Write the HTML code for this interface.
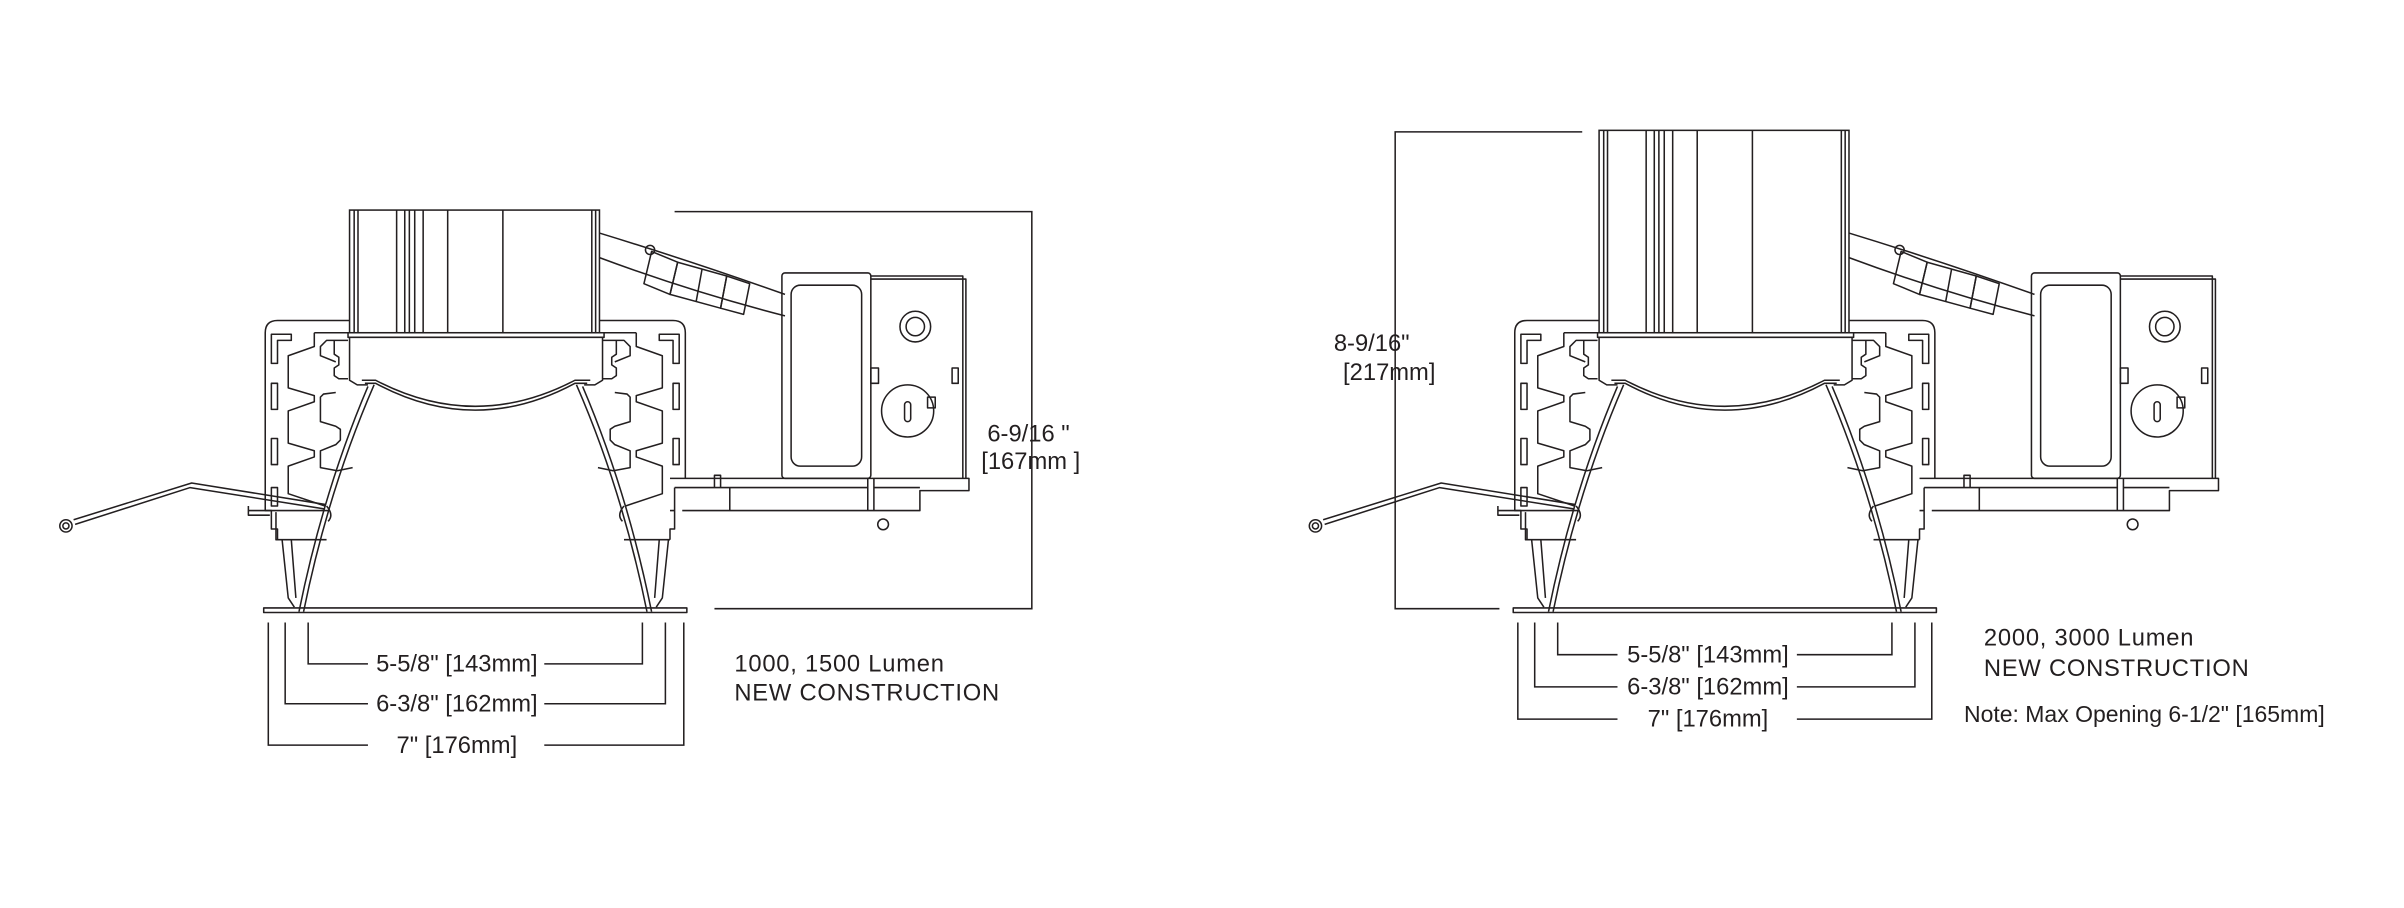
<!DOCTYPE html>
<html><head><meta charset="utf-8"><style>
html,body{margin:0;padding:0;background:#fff;}
svg{display:block;}
text{font-family:"Liberation Sans Narrow","Liberation Sans",sans-serif;fill:#231f20;}
</style></head><body>
<svg width="2404" height="908" viewBox="0 0 1568 592.2" xmlns="http://www.w3.org/2000/svg">
<defs>
<g id="fx" fill="none" stroke="#231f20" stroke-width="1" stroke-linejoin="round">
  <path d="M228,209 L181,209 Q173,209 173,217 L173,333 L177,333 L177,345 L181,345 L181,352"/>
  <path d="M391,209 L439,209 Q447,209 447,217 L447,312"/>
  <path d="M440,318 L440,345 L437,345 L437,352"/>
  <path d="M177,218 L190,218 L190,222 L181,222 L181,237 L177,237 Z"/>
  <rect x="177" y="250" width="4" height="17"/>
  <rect x="177" y="286" width="4" height="17"/>
  <rect x="177" y="318" width="4" height="12"/>
  <path d="M443,218 L430,218 L430,222 L439,222 L439,237 L443,237 Z"/>
  <rect x="439" y="250" width="4" height="17"/>
  <rect x="439" y="286" width="4" height="17"/>
  <path d="M205,217 L227,217 M205,217 L205,226 L188,232 L188,253 L205,258 L205,262 L188,268 L188,289 L205,294 L205,298 L188,304 L188,322 L212,330"/>
  <path d="M227,222 L213,222 L209,226 L209,232 L219,236 M219,256 L211,257 L209,259 L209,275 L219,278 L222,280 L222,287 L219,290 L209,294 L209,305 L220,307 L230,305"/>
  <path d="M218,222 L218,231 L221,233 L221,238 L218,240 L218,245 L221,247 L227,247"/>
  <path d="M415,217 L393,217 M415,217 L415,226 L432,232 L432,253 L415,258 L415,262 L432,268 L432,289 L415,294 L415,298 L432,304 L432,322 L408,330"/>
  <path d="M393,222 L407,222 L411,226 L411,232 L401,236 M401,256 L409,257 L411,259 L411,275 L401,278 L398,280 L398,287 L401,290 L411,294 L411,305 L400,307 L390,305"/>
  <path d="M402,222 L402,231 L399,233 L399,238 L402,240 L402,245 L399,247 L393,247"/>
  <rect x="227" y="217" width="167" height="3"/>
  <path d="M228,220 L228,248 L233,251 L240,251 M393,220 L393,248 L388,251 L381,251"/>
  <path d="M236,248 L245,248 Q310,282 375,248 L385,248"/>
  <path d="M238,250 L245,250 Q310,285 375,250 L383,250"/>
  <path d="M244,251 Q214,320 198,399"/>
  <path d="M240,252 Q211,320 195,399"/>
  <path d="M376,251 Q406,320 422,399"/>
  <path d="M380,252 Q409,320 425,399"/>
  <rect x="172" y="396.5" width="276" height="3"/>
  <path d="M162,333 L214,333 M180,334 L180,352 L213,352 M184,352 L188,390 L192,396 M190,352 L193,390"/>
  <path d="M437,333 L440,333 M407,352 L437,352 M436,352 L432,390 L428,396 M430,352 L427,390"/>
  <path d="M162,330 L162,336 L176,336"/>
  <path d="M213,330 Q218,336 214,340 M407,330 Q402,336 406,340"/>
  <path d="M212,329 L125,315 L48,339"/>
  <path d="M212,332 L124,318 L49,342"/>
  <circle cx="43" cy="343" r="4"/><circle cx="43" cy="343" r="2"/>
  <path d="M391,152 Q450,170 512,192"/>
  <path d="M391,168 Q450,190 512,206"/>
  <path d="M425,164 L420,185 L437,192 L442,171 Z"/>
  <path d="M442,171 L437,192 L470,201 L474,180 Z M458,175 L454,197"/>
  <path d="M474,180 L470,201 L485,205 L489,185 Z"/>
  <circle cx="424" cy="163" r="3"/>
  <rect x="510" y="178" width="58" height="134" rx="2"/>
  <rect x="516" y="186" width="46" height="118" rx="6"/>
  <path d="M568,180 L628,180 L628,312 M568,182 L630,182 L630,312"/>
  <path d="M566,312 L566,333 M570,312 L570,333"/>
  <circle cx="597" cy="213" r="10"/><circle cx="597" cy="213" r="6"/>
  <circle cx="592" cy="268" r="17"/>
  <rect x="590" y="262" width="4" height="13" rx="2"/>
  <rect x="605" y="259" width="5" height="7"/>
  <rect x="568" y="240" width="5" height="10"/>
  <rect x="621" y="240" width="4" height="10"/>
  <path d="M437,312 L632,312 L632,320 L600,320 L600,333 L445,333"/>
  <path d="M440,318 L566,318 M570,318 L600,318"/>
  <path d="M466,318 L466,310 L470,310 L470,318 M476,318 L476,333"/>
  <circle cx="576" cy="342" r="3.5"/>
</g>
</defs>

<use href="#fx"/>
<g fill="none" stroke="#231f20" stroke-width="1">
  <rect x="228" y="137" width="163" height="80"/>
  <path d="M231,137V217 M233.5,137V217 M258.7,137V217 M264,137V217 M267,137V217 M270.5,137V217 M276,137V217 M292,137V217 M328,137V217 M386,137V217 M388.5,137V217"/>
  <path d="M440,138H673V397H466"/>
  <path d="M175,406V486H240 M355,486H446V406"/>
  <path d="M186,406V459H240 M355,459H434V406"/>
  <path d="M201,406V433H240 M355,433H419V406"/>
</g>
<g font-size="15.5">
  <text x="298" y="438" text-anchor="middle">5-5/8" [143mm]</text>
  <text x="298" y="464" text-anchor="middle">6-3/8" [162mm]</text>
  <text x="298" y="491" text-anchor="middle">7" [176mm]</text>
  <text x="644" y="288">6-9/16 "</text>
  <text x="640" y="306">[167mm ]</text>
  <text x="479" y="438" letter-spacing="0.5">1000, 1500 Lumen</text>
  <text x="479" y="457" letter-spacing="0.5">NEW CONSTRUCTION</text>
</g>

<use href="#fx" transform="translate(815,0)"/>
<g fill="none" stroke="#231f20" stroke-width="1">
  <rect x="1043" y="85" width="163" height="132"/>
  <path d="M1046,85V217 M1048.5,85V217 M1073.7,85V217 M1079,85V217 M1082,85V217 M1085.5,85V217 M1091,85V217 M1107,85V217 M1143,85V217 M1201,85V217 M1203.5,85V217"/>
  <path d="M1032,86H910V397H978"/>
  <path d="M990,406V469H1055 M1172,469H1260V406"/>
  <path d="M1001,406V448H1055 M1172,448H1249V406"/>
  <path d="M1016,406V427H1055 M1172,427H1234V406"/>
</g>
<g font-size="15.5">
  <text x="1114" y="432" text-anchor="middle">5-5/8" [143mm]</text>
  <text x="1114" y="453" text-anchor="middle">6-3/8" [162mm]</text>
  <text x="1114" y="474" text-anchor="middle">7" [176mm]</text>
  <text x="870" y="229">8-9/16"</text>
  <text x="876" y="248">[217mm]</text>
  <text x="1294" y="421" letter-spacing="0.5">2000, 3000 Lumen</text>
  <text x="1294" y="441" letter-spacing="0.5">NEW CONSTRUCTION</text>
  <text x="1281" y="471" font-size="15">Note: Max Opening 6-1/2" [165mm]</text>
</g>
</svg>
</body></html>
